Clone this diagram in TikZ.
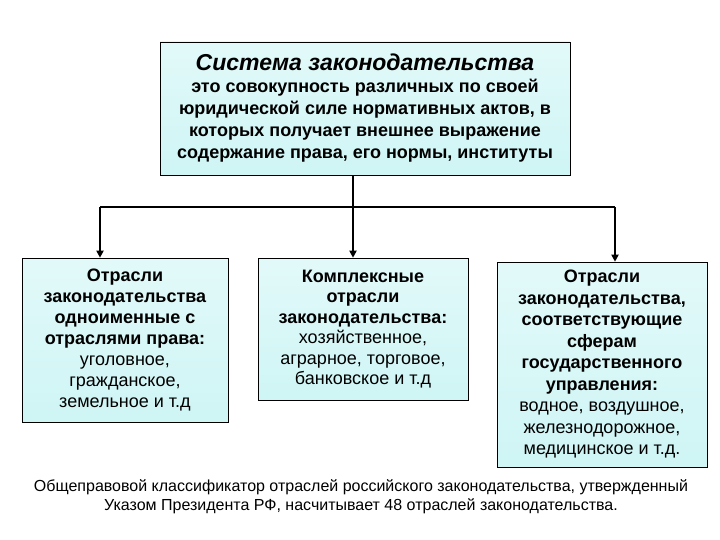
\documentclass[tikz,border=0pt]{standalone}
\usepackage{fontspec}
\setmainfont{Liberation Sans}
\usetikzlibrary{arrows.meta}
\definecolor{boxc}{HTML}{CFF5F5}
\begin{document}
\begin{tikzpicture}[x=1pt,y=-1pt,
  box/.style={draw=black,line width=0.6pt,top color=boxc!60,bottom color=boxc,inner sep=0pt,align=center},
  conn/.style={line width=2pt},
  arr/.style={conn,-{Triangle[length=7pt,width=7pt]}}]
\useasboundingbox (0,0) rectangle (720,540);
\node[box,minimum width=410,minimum height=133] (top) at (365,108.5) {};
\node[align=center,font=\fontsize{23}{26}\selectfont\bfseries\itshape] (tt) at (365,62) {Система законодательства};
\node[align=center,font=\fontsize{18}{22}\selectfont\bfseries] (tb) at (365,121) {это совокупность различных по своей\\юридической силе нормативных актов, в\\которых получает внешнее выражение\\содержание права, его нормы, институты};
\node[box,minimum width=206,minimum height=164,font=\fontsize{18}{21}\selectfont] (a) at (125,340) {\textbf{Отрасли}\\\textbf{законодательства}\\\textbf{одноименные с}\\\textbf{отраслями права:}\\уголовное,\\гражданское,\\земельное и т.д};
\node[box,minimum width=210,minimum height=142,font=\fontsize{18}{20.5}\selectfont] (b) at (363,329) {\textbf{Комплексные}\\\textbf{отрасли}\\\textbf{законодательства:}\\хозяйственное,\\аграрное, торговое,\\банковское и т.д};
\node[box,minimum width=210,minimum height=205,font=\fontsize{18}{21.5}\selectfont] (c) at (602,364.5) {\textbf{Отрасли}\\\textbf{законодательства,}\\\textbf{соответствующие}\\\textbf{сферам}\\\textbf{государственного}\\\textbf{управления:}\\водное, воздушное,\\железнодорожное,\\медицинское и т.д.};
\coordinate (j) at (353,207);
\coordinate (jl) at (100,207);
\coordinate (jr) at (615,207);
\draw[conn] (top.south -| j) -- (j);
\draw[conn] (jl) -- (jr);
\draw[arr] (jl) -- (jl |- a.north);
\draw[arr] (j) -- (j |- b.north);
\draw[arr] (jr) -- (jr |- c.north);
\node[align=center,font=\fontsize{16}{19}\selectfont] (note) at (361,497) {Общеправовой классификатор отраслей российского законодательства, утвержденный\\Указом Президента РФ, насчитывает 48 отраслей законодательства.};
\end{tikzpicture}
\end{document}
